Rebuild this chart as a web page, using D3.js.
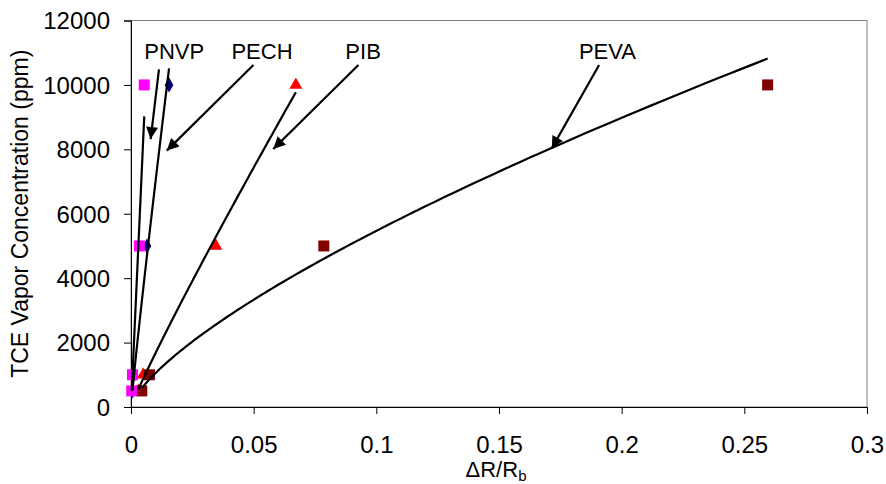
<!DOCTYPE html>
<html>
<head>
<meta charset="utf-8">
<script src="https://cdn.jsdelivr.net/npm/d3@7"></script>
<style>
  html, body { margin: 0; padding: 0; background: #fff; }
  svg { display: block; font-family: "Liberation Sans", Arial, Helvetica, sans-serif; }
</style>
</head>
<body>
<svg id="chart" width="886" height="484"></svg>
<script>
// ---- data ----
const concentrations = [500, 1000, 5000, 10000];   // ppm
const pnvpX = [0.0003, 0.0006, 0.0034, 0.0054];
const pechX = [0.0006, 0.0012, 0.0065, 0.0155];
const pibX  = [0.003, 0.005, 0.0346, 0.0672];
const pevaX = [0.0044, 0.0075, 0.0786, 0.2595];

const xTicks = [0, 0.05, 0.1, 0.15, 0.2, 0.25, 0.3];
const xTickLabels = ["0", "0.05", "0.1", "0.15", "0.2", "0.25", "0.3"];
const yTicks = [0, 2000, 4000, 6000, 8000, 10000, 12000];
const yTickLabels = ["0", "2000", "4000", "6000", "8000", "10000", "12000"];

const seriesNames = ["PECH", "PIB", "PEVA", "PNVP"];   // drawing order
const seriesX = { PNVP: pnvpX, PECH: pechX, PIB: pibX, PEVA: pevaX };
const seriesColor = { PNVP: "#ff00ff", PECH: "#000080", PIB: "#ff0000", PEVA: "#800000" };
const seriesSymbol = { PNVP: "square", PECH: "diamond", PIB: "triangle", PEVA: "square" };

// annotation labels: text position and arrow start/tip in data units
const labelNames = ["PNVP", "PECH", "PIB", "PEVA"];
const labelX = [0.0176, 0.0534, 0.0946, 0.1942];
const labelY = [10800, 10800, 10800, 10800];
const arrowFromX = [0.0114, 0.0499, 0.0927, 0.1908];
const arrowFromY = [10480, 10620, 10620, 10620];
const arrowToX = [0.0080, 0.0146, 0.0580, 0.1715];
const arrowToY = [8320, 7960, 8010, 8030];

// ---- layout ----
const svg = d3.select("#chart");
const pLeft = 131, pRight = 867, pTop = 20.5, pBottom = 407;
const x = d3.scaleLinear().domain([0, 0.3]).range([pLeft, pRight]);
const y = d3.scaleLinear().domain([0, 12000]).range([pBottom, pTop]);

// plot area border (gray)
svg.append("rect")
  .attr("x", pLeft).attr("y", pTop)
  .attr("width", pRight - pLeft).attr("height", pBottom - pTop)
  .attr("fill", "none").attr("stroke", "#808080").attr("stroke-width", 1);

// axes
const xAxis = d3.axisBottom(x).tickValues(xTicks)
  .tickFormat((d, i) => xTickLabels[i]).tickSize(7).tickPadding(22);
const yAxis = d3.axisLeft(y).tickValues(yTicks)
  .tickFormat((d, i) => yTickLabels[i]).tickSize(7).tickPadding(14);

const gx = svg.append("g").attr("transform", `translate(0,${pBottom})`).call(xAxis);
const gy = svg.append("g").attr("transform", `translate(${pLeft},0)`).call(yAxis);
[gx, gy].forEach(g => {
  g.select(".domain").attr("stroke", "#000").attr("stroke-width", 1);
  g.selectAll(".tick line").attr("stroke", "#000");
  g.selectAll(".tick text").attr("fill", "#000")
    .style("font-size", "24px")
    .style("font-family", "'Liberation Sans', Arial, sans-serif");
});
gx.selectAll(".tick text").attr("dy", "0em").attr("y", 46);
gy.selectAll(".tick text").attr("dy", "0.35em");

// axis titles
const xt = svg.append("text")
  .attr("x", (pLeft + pRight) / 2 - 3).attr("y", 477)
  .attr("text-anchor", "middle")
  .style("font-size", "22px").attr("fill", "#000");
xt.append("tspan").text("\u0394R/R");
xt.append("tspan").text("b").style("font-size", "15px").attr("dy", 4);

svg.append("text")
  .attr("transform", `translate(28,${(pTop + pBottom) / 2}) rotate(-90)`)
  .attr("text-anchor", "middle")
  .style("font-size", "23px").attr("fill", "#000")
  .text("TCE Vapor Concentration (ppm)");

// ---- markers ----
const symbolType = { square: d3.symbolSquare, diamond: d3.symbolDiamond, triangle: d3.symbolTriangle };
const symbolSize = { square: 121, diamond: 66, triangle: 72 };
const gMarks = svg.append("g");
seriesNames.forEach(name => {
  const xs = seriesX[name];
  const pts = xs.map((v, i) => [v, concentrations[i]]);
  const sym = seriesSymbol[name];
  gMarks.selectAll(null).data(pts).enter().append("path")
    .attr("transform", d => `translate(${x(d[0])},${y(d[1])})`)
    .attr("d", d3.symbol(symbolType[sym], symbolSize[sym]))
    .attr("fill", seriesColor[name]);
});

// ---- power-law trendlines (least squares in log-log space, from the data) ----
function powerFit(xs, ys) {
  const lx = xs.map(Math.log), ly = ys.map(Math.log);
  const mx = d3.mean(lx), my = d3.mean(ly);
  let sxy = 0, sxx = 0;
  lx.forEach((v, i) => { sxy += (v - mx) * (ly[i] - my); sxx += (v - mx) * (v - mx); });
  const b = sxy / sxx;
  const a = Math.exp(my - b * mx);
  return { a, b };
}
const line = d3.line().x(d => x(d[0])).y(d => y(d[1]));
const gTrend = svg.append("g");
["PNVP", "PECH", "PIB", "PEVA"].forEach(name => {
  const xs = seriesX[name];
  const f = powerFit(xs, concentrations);
  const x0 = d3.min(xs), x1 = d3.max(xs);
  const pts = d3.range(0, 201).map(k => {
    const xv = x0 * Math.pow(x1 / x0, k / 200);
    return [xv, f.a * Math.pow(xv, f.b)];
  });
  gTrend.append("path").datum(pts)
    .attr("d", line).attr("fill", "none")
    .attr("stroke", "#000").attr("stroke-width", 2.2);
});

// ---- annotations ----
svg.append("defs").append("marker")
  .attr("id", "arrow").attr("viewBox", "0 0 10 10")
  .attr("refX", 10).attr("refY", 5)
  .attr("markerUnits", "userSpaceOnUse")
  .attr("markerWidth", 14).attr("markerHeight", 12)
  .attr("orient", "auto")
  .append("path").attr("d", "M0,0 L10,5 L0,10 Z").attr("fill", "#000");

const gAnn = svg.append("g");
labelNames.forEach((name, i) => {
  gAnn.append("line")
    .attr("x1", x(arrowFromX[i])).attr("y1", y(arrowFromY[i]))
    .attr("x2", x(arrowToX[i])).attr("y2", y(arrowToY[i]))
    .attr("stroke", "#000").attr("stroke-width", 2.2)
    .attr("marker-end", "url(#arrow)");
  gAnn.append("text")
    .attr("x", x(labelX[i])).attr("y", y(labelY[i]))
    .attr("text-anchor", "middle")
    .style("font-size", "22px").attr("fill", "#000")
    .text(name);
});
</script>
</body>
</html>
